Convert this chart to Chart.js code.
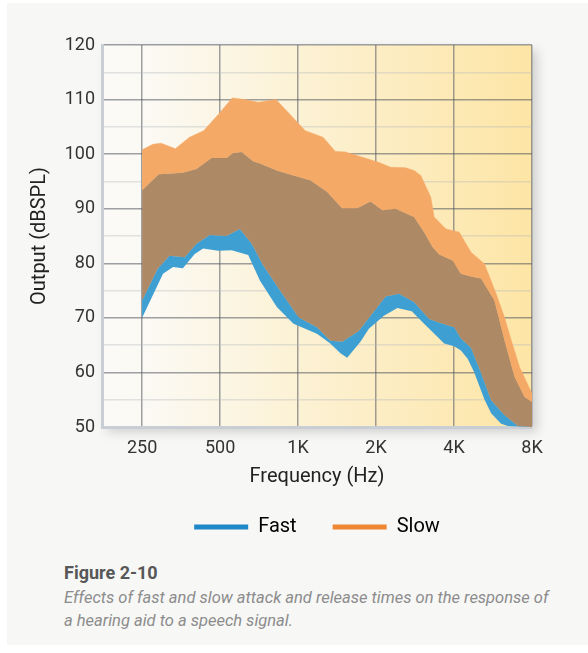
<!DOCTYPE html>
<html>
<head>
<meta charset="utf-8">
<script src="https://cdn.jsdelivr.net/npm/chart.js@4.4.1/dist/chart.umd.min.js"></script>
<style>
    html, body { margin: 0; padding: 0; background: #fff; width: 588px; height: 653px; overflow: hidden; }
    .card { position: absolute; left: 7px; top: 3px; width: 581px; height: 642px; background: #f7f7f6; }
    .chart { position: absolute; left: 0; top: 0; width: 588px; height: 550px; }
    .fig { position: absolute; left: 64px; top: 562px; font: bold 18px Roboto, sans-serif; color: #575757; }
    .cap { position: absolute; left: 64px; top: 586px; white-space: nowrap; font: italic 16.5px/23px Roboto, sans-serif; color: #8c8c8c; }
</style>
</head>
<body>
<div class="card"></div>
<div class="chart"><canvas id="responseChart" width="588" height="550"></canvas></div>
<div class="fig">Figure 2-10</div>
<div class="cap">Effects of fast and slow attack and release times on the response of<br>a hearing aid to a speech signal.</div>
<script>
// x ticks (Hz)
const freqTicks = [250, 500, 1000, 2000, 4000, 8000];
const freqLabels = ['250', '500', '1K', '2K', '4K', '8K'];

// slow: upper edge of the band
const slowHighHz = [250, 275, 296, 336, 381, 432, 491, 557, 623, 702, 822, 1066, 1248, 1393, 1523, 2045, 2277, 2603, 2804, 2976, 3254, 3351, 3721, 4190, 4652, 5238, 5817, 6263, 6650, 7160, 8000];
const slowHighDb = [100.8, 101.8, 102.0, 101.0, 103.1, 104.3, 107.2, 110.3, 110.0, 109.5, 110.0, 104.3, 103.1, 100.5, 100.4, 98.5, 97.6, 97.5, 97.0, 96.1, 92.1, 88.5, 86.3, 85.7, 82.0, 79.9, 74.4, 70.1, 65.9, 61.0, 56.1];

// fast: upper edge of the band
const fastHighHz = [250, 290, 359, 405, 463, 529, 562, 605, 671, 713, 828, 960, 1114, 1293, 1479, 1691, 1904, 2114, 2381, 2804, 3066, 3304, 3505, 3950, 4254, 4652, 5087, 5728, 6263, 6848, 7488, 8000];
const fastHighDb = [93.4, 96.3, 96.6, 97.3, 99.3, 99.3, 100.2, 100.4, 98.7, 98.3, 97.0, 96.1, 95.2, 93.1, 90.1, 90.1, 91.3, 89.7, 90.0, 88.5, 85.7, 83.0, 81.6, 80.5, 78.1, 77.6, 77.2, 73.2, 65.9, 59.2, 55.5, 54.6];

// slow: lower edge of the band
const slowLowHz = [250, 287, 319, 365, 405, 456, 529, 596, 662, 734, 852, 1004, 1183, 1332, 1479, 1715, 2177, 2452, 2804, 3205, 3613, 4007, 4254, 4652, 5087, 5562, 6263, 7059, 8000];
const slowLowDb = [73.2, 79.0, 81.4, 81.1, 83.6, 85.2, 85.0, 86.3, 83.6, 79.6, 75.0, 70.1, 68.3, 65.8, 65.6, 67.6, 73.9, 74.4, 72.9, 69.8, 68.9, 68.3, 66.2, 64.5, 59.9, 54.9, 52.2, 50.2, 50];

// fast: lower edge of the band
const fastLowHz = [250, 301, 329, 359, 399, 430, 491, 554, 642, 713, 828, 960, 1183, 1332, 1457, 1547, 1741, 1876, 2144, 2417, 2747, 3066, 3403, 3665, 4007, 4254, 4517, 4790, 5238, 5562, 6081, 6455, 8000];
const fastLowDb = [70.0, 78.1, 79.3, 79.1, 81.7, 82.7, 82.3, 82.4, 81.5, 76.8, 72.0, 68.9, 67.1, 65.3, 63.5, 62.7, 65.6, 68.0, 70.4, 71.8, 71.2, 68.9, 66.8, 65.3, 64.8, 64.0, 62.5, 60.0, 55.1, 52.5, 50.6, 50.2, 50];

const orange = 'rgb(245, 169, 103)';
const brown = 'rgb(173, 137, 101)';
const blue = 'rgb(62, 159, 211)';
const fontFamily = 'Roboto, sans-serif';

const toPoints = (hz, db) => hz.map((f, i) => ({ x: f, y: db[i] }));

// gradient plot background with a soft drop shadow
const plotBackground = {
    id: 'plotBackground',
    beforeDraw(chart) {
        const { ctx, chartArea: a } = chart;
        const g = ctx.createLinearGradient(a.left, 0, a.right, 0);
        g.addColorStop(0, '#fbfaf7');
        g.addColorStop(0.12, '#fbf9f2');
        g.addColorStop(1, '#fde5a5');
        ctx.save();
        ctx.shadowColor = 'rgba(0, 0, 0, 0.16)';
        ctx.shadowBlur = 10;
        ctx.shadowOffsetX = 5;
        ctx.shadowOffsetY = 5;
        ctx.fillStyle = g;
        ctx.fillRect(a.left, a.top, a.right - a.left, a.bottom - a.top);
        ctx.restore();
    }
};

const band = (label, hz, db, fillColor) => ({
    label: label,
    data: toPoints(hz, db),
    borderColor: fillColor || 'transparent',
    borderWidth: fillColor ? 0.5 : 0,
    backgroundColor: fillColor,
    fill: fillColor ? '+1' : false,
    pointRadius: 0,
    tension: 0
});

const ctx = document.getElementById('responseChart');

new Chart(ctx, {
    type: 'line',
    data: {
        datasets: [
            band('Slow high', slowHighHz, slowHighDb, orange),
            band('Fast high', fastHighHz, fastHighDb, brown),
            band('Slow low', slowLowHz, slowLowDb, blue),
            band('Fast low', fastLowHz, fastLowDb, null)
        ]
    },
    options: {
        responsive: false,
        animation: false,
        layout: { padding: { top: 45, left: 0, right: 56, bottom: 3 } },
        scales: {
            x: {
                type: 'logarithmic',
                min: 175,
                max: 8000,
                z: 1,
                afterBuildTicks: s => { s.ticks = freqTicks.map(v => ({ value: v })); },
                afterFit: s => { s.height = 54; },
                border: { color: '#c9ced4', width: 3 },
                grid: { color: 'rgba(80, 86, 94, 0.55)', lineWidth: 1.5, drawTicks: false },
                ticks: {
                    autoSkip: false,
                    maxRotation: 0,
                    padding: 11,
                    color: '#333',
                    font: { family: fontFamily, size: 18 },
                    callback: (v, i) => freqLabels[i]
                },
                title: {
                    display: true,
                    text: 'Frequency (Hz)',
                    color: '#222',
                    font: { family: fontFamily, size: 20 },
                    padding: { top: 0, bottom: -8 }
                }
            },
            y: {
                min: 50,
                max: 120,
                z: 1,
                afterFit: s => { s.width = 102; },
                border: { color: '#c9ced4', width: 3 },
                grid: {
                    color: c => c.tick.value % 10 === 0 ? 'rgba(80, 86, 94, 0.55)' : 'rgba(175, 180, 186, 0.35)',
                    lineWidth: 1.5,
                    drawTicks: false
                },
                ticks: {
                    stepSize: 5,
                    padding: 7,
                    color: '#333',
                    font: { family: fontFamily, size: 18 },
                    callback: v => v % 10 === 0 ? v : ''
                },
                title: {
                    display: true,
                    text: 'Output (dBSPL)',
                    color: '#222',
                    font: { family: fontFamily, size: 20 },
                    padding: { top: 28 }
                }
            }
        },
        plugins: {
            tooltip: { enabled: false },
            legend: {
                position: 'bottom',
                fullSize: false,
                onClick: null,
                labels: {
                    boxWidth: 54,
                    boxHeight: 5,
                    padding: 36,
                    useBorderRadius: true,
                    borderRadius: 2.5,
                    color: '#222',
                    font: { family: fontFamily, size: 20 },
                    generateLabels: () => [
                        { text: 'Fast', fillStyle: '#1f88c8', strokeStyle: '#1f88c8', lineWidth: 0, hidden: false },
                        { text: 'Slow', fillStyle: '#f08833', strokeStyle: '#f08833', lineWidth: 0, hidden: false }
                    ]
                }
            }
        }
    },
    plugins: [plotBackground]
});
</script>
</body>
</html>
